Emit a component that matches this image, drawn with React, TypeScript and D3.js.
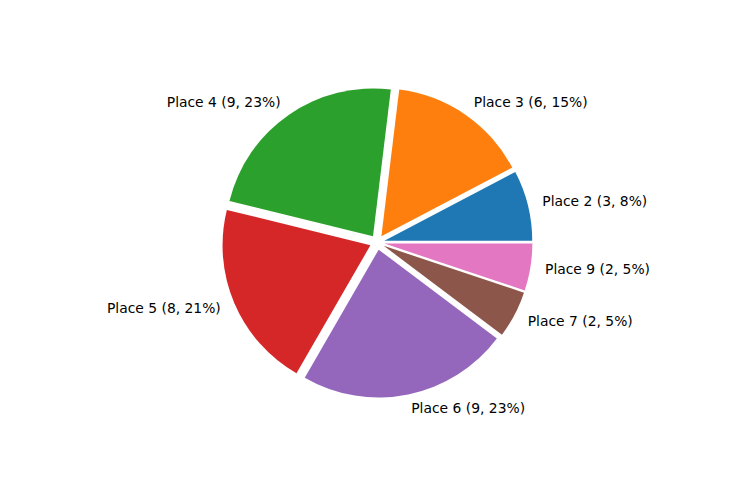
import React from 'react';
import * as d3 from 'd3';

const WIDTH = 736;
const HEIGHT = 480;

const places = ['Place 2', 'Place 3', 'Place 4', 'Place 5', 'Place 6', 'Place 7', 'Place 9'];
const counts = [3, 6, 9, 8, 9, 2, 2];
const colors = ['#1f77b4', '#ff7f0e', '#2ca02c', '#d62728', '#9467bd', '#8c564b', '#e377c2'];
const EXPLODE = 0.05;

const App: React.FC = () => {
  // axes box like matplotlib's default subplot
  const axW = WIDTH * 0.775;
  const axH = HEIGHT * 0.77;
  const cx = WIDTH * 0.125 + axW / 2;
  const cy = HEIGHT - (HEIGHT * 0.11 + axH / 2);
  const r = Math.min(axW, axH) / 2 / 1.25;

  const total = d3.sum(counts);

  // counterclockwise from 3 o'clock
  const pie = d3
    .pie<number>()
    .sort(null)
    .value((d) => d)
    .startAngle(Math.PI / 2)
    .endAngle(Math.PI / 2 - 2 * Math.PI);

  const arc = d3.arc<d3.PieArcDatum<number>>().innerRadius(0).outerRadius(r);
  const arcs = pie(counts);

  return (
    <svg width={WIDTH} height={HEIGHT} style={{ position: 'absolute', left: 0, top: 0 }}>
      <rect width={WIDTH} height={HEIGHT} fill="#fff" />
      <g transform={`translate(${cx},${cy})`}>
        {arcs.map((a, i) => {
          const mid = (a.startAngle + a.endAngle) / 2;
          const ux = Math.sin(mid);
          const uy = -Math.cos(mid);
          const off = EXPLODE * r;
          const lr = (1.1 + EXPLODE) * r;
          const pct = Math.round((counts[i] / total) * 100);
          return (
            <g key={places[i]}>
              <path d={arc(a) ?? ''} fill={colors[i]} transform={`translate(${ux * off},${uy * off})`} />
              <text
                x={ux * lr}
                y={uy * lr}
                dy="0.32em"
                textAnchor={ux > 0 ? 'start' : 'end'}
                fontFamily="DejaVu Sans"
                fontSize={13.89}
                fill="#000"
              >
                {`${places[i]} (${counts[i]}, ${pct}%)`}
              </text>
            </g>
          );
        })}
      </g>
    </svg>
  );
};

export default App;
